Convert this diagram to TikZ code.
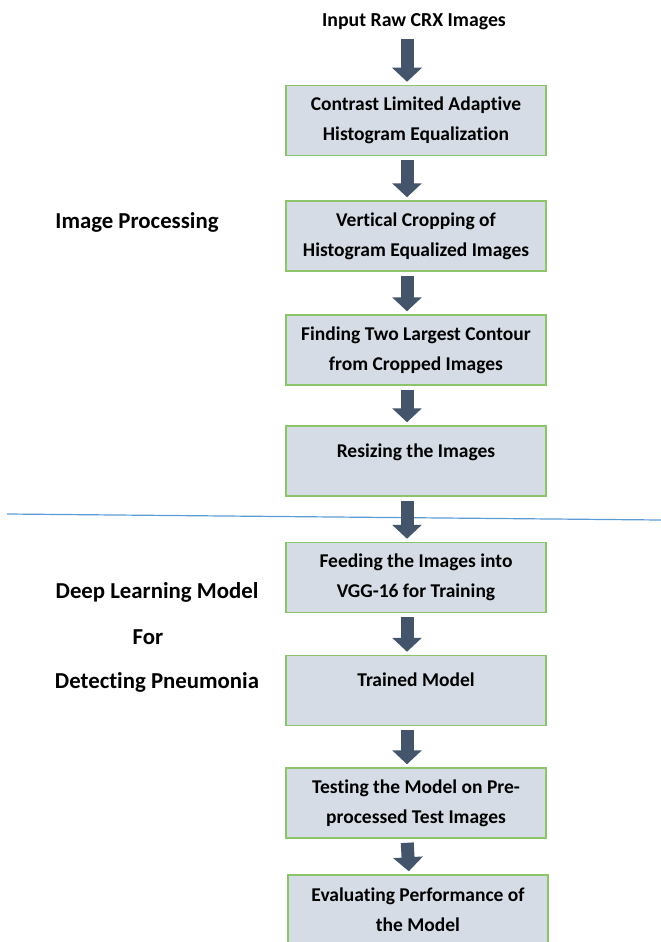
\documentclass[tikz,border=0pt]{standalone}
\usepackage{fontspec}
\setmainfont{Carlito}[Ligatures=NoCommon]
\usetikzlibrary{
    arrows.meta,
    positioning
}
\definecolor{boxfill}{HTML}{D6DCE5}
\definecolor{boxline}{HTML}{8CC46A}
\definecolor{arrowcol}{HTML}{44546A}
\definecolor{sepcol}{HTML}{5B9BD5}

\begin{document}
\begin{tikzpicture}[
x=1pt, y=-1pt,
box/.style={
draw=boxline,
fill=boxfill,
line width=1.5pt,
minimum width=260pt,
minimum height=70pt,
inner sep=0pt,
align=center,
font=\bfseries\fontsize{19.5}{30}\selectfont
},
oneline/.style={
text depth=21pt
},
sidetext/.style={
inner sep=0pt,
font=\bfseries\fontsize{22.8}{26}\selectfont
},
toptext/.style={
inner sep=0pt,
font=\bfseries\fontsize{19.8}{24}\selectfont
},
flow/.style={
draw=arrowcol,
line width=13pt,
-{Triangle[width=29pt,length=14pt]},
shorten <=4pt,
shorten >=3pt
}
]

\useasboundingbox (0,0) rectangle (661,942);

\node[toptext] (input) at (414,22)
{Input Raw CRX Images};

\node[box] (clahe) at (416,120.5)
{Contrast Limited Adaptive\\Histogram Equalization};

\node[box] (crop) at (416,236)
{Vertical Cropping of\\Histogram Equalized Images};

\node[box] (contour) at (416,350)
{Finding Two Largest Contour\\from Cropped Images};

\node[box, oneline] (resize) at (416,461)
{Resizing the Images};

\node[box] (feed) at (416,577.5)
{Feeding the Images into\\VGG-16 for Training};

\node[box, oneline] (trained) at (416,690.5)
{Trained Model};

\node[box] (testing) at (416,803)
{Testing the Model on Pre-\\processed Test Images};

\node[box] (evaluate) at (418,910)
{Evaluating Performance of\\the Model};

% stage labels on the left
\node[sidetext] (imgproc) at (137,222)
{Image Processing};

\node[sidetext] (deep) at (157,592)
{Deep Learning Model};

\node[sidetext] (for) at (148,637)
{For};

\node[sidetext] (pneu) at (157,682)
{Detecting Pneumonia};

% separator
\coordinate (sepL) at (7,514);
\coordinate (sepR) at (661,520);
\draw[sepcol, line width=1.2pt] (sepL) -- (sepR);

% block arrows
\draw[flow, shorten <=9pt]
([xshift=-7pt]input.south)
-- ([xshift=-9pt]clahe.north);

\foreach \a/\b in {clahe/crop, crop/contour, contour/resize,
resize/feed, feed/trained, trained/testing, testing/evaluate}
{
\draw[flow]
([xshift=-9pt]\a.south)
-- ([xshift=-9pt]\b.north);
}

\end{tikzpicture}
\end{document}
